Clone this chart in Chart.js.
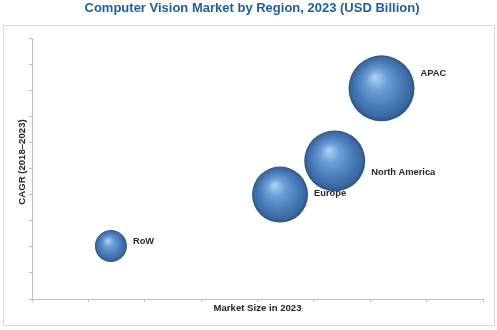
<!DOCTYPE html>
<html>
<head>
<meta charset="utf-8">
<script src="https://cdn.jsdelivr.net/npm/chart.js@4.4.1/dist/chart.umd.min.js"></script>
<style>
  html, body { margin: 0; padding: 0; background: #ffffff; }
  #wrap { width: 497px; height: 330px; }
</style>
</head>
<body>
<div id="wrap"><canvas id="chart" width="497" height="330"></canvas></div>
<script>
const regions = ['RoW', 'Europe', 'North America', 'APAC'];
const marketSize = [1.4, 4.4, 5.37, 6.2];
const cagr = [2.03, 4.0, 5.29, 8.07];
const bubbleSize = [16, 28, 30.5, 33];

// label placement next to each sphere (px)
const labelDy = [-5, -1, 11, -15];
const labelGap = 6;

const axisGray = '#bfbfbf';
const labelFont = '"Liberation Sans", Arial, sans-serif';

// White background, grey frame and the heading above it
const frame = {
  id: 'frame',
  beforeDraw: (chart) => {
    const { ctx } = chart;
    ctx.save();
    ctx.fillStyle = '#ffffff';
    ctx.fillRect(0, 0, chart.width, chart.height);
    ctx.strokeStyle = '#d9d9d9';
    ctx.lineWidth = 1;
    ctx.strokeRect(3.5, 25.5, 491, 300);
    ctx.font = 'bold 13px ' + labelFont;
    ctx.fillStyle = '#1f5f99';
    ctx.textAlign = 'center';
    ctx.textBaseline = 'middle';
    ctx.fillText('Computer Vision Market by Region, 2023 (USD Billion)', 252, 8.5);
    ctx.restore();
  },
};

// Vertical axis caption, sitting a little above the axis middle
const yCaption = {
  id: 'yCaption',
  afterDraw: (chart) => {
    const { ctx } = chart;
    ctx.save();
    ctx.translate(22.5, 162);
    ctx.rotate(-Math.PI / 2);
    ctx.font = 'bold 9.6px ' + labelFont;
    ctx.fillStyle = '#262626';
    ctx.textAlign = 'center';
    ctx.textBaseline = 'middle';
    ctx.fillText('CAGR (2018–2023)', 0, 0);
    ctx.restore();
  },
};

// Region names beside the spheres
const regionLabels = {
  id: 'regionLabels',
  afterDatasetsDraw: (chart) => {
    const { ctx } = chart;
    const meta = chart.getDatasetMeta(0);
    ctx.save();
    ctx.font = 'bold 9.3px ' + labelFont;
    ctx.fillStyle = '#262626';
    ctx.textAlign = 'left';
    ctx.textBaseline = 'middle';
    meta.data.forEach((pt, i) => {
      const r = bubbleSize[i];
      ctx.fillText(regions[i], pt.x + r + labelGap, pt.y + labelDy[i]);
    });
    ctx.restore();
  },
};

// Shaded sphere fill
const sphereFill = (c) => {
  const { chart, raw } = c;
  if (!raw || !chart.scales || !chart.scales.x || !chart.scales.y) return '#4a7ebb';
  const x = chart.scales.x.getPixelForValue(raw.x);
  const y = chart.scales.y.getPixelForValue(raw.y);
  const r = raw.r;
  if (![x, y, r].every(Number.isFinite)) return '#4a7ebb';
  const g = chart.ctx.createRadialGradient(x - r * 0.2, y - r * 0.35, r * 0.03, x, y, r);
  g.addColorStop(0, '#a9cff1');
  g.addColorStop(0.3, '#6b9dd6');
  g.addColorStop(0.65, '#4a7dbb');
  g.addColorStop(0.9, '#3b68a0');
  g.addColorStop(1, '#2a5282');
  return g;
};

const points = regions.map((name, i) => ({ x: marketSize[i], y: cagr[i], r: bubbleSize[i] }));

new Chart(document.getElementById('chart').getContext('2d'), {
  type: 'bubble',
  data: {
    datasets: [
      {
        label: 'Regions',
        data: points,
        backgroundColor: sphereFill,
        borderWidth: 0,
        hoverRadius: 0,
      },
    ],
  },
  options: {
    responsive: false,
    animation: false,
    events: [],
    layout: { autoPadding: false, padding: { left: 0, right: 14, top: 38, bottom: 0 } },
    plugins: {
      legend: { display: false },
      tooltip: { enabled: false },
      title: { display: false },
    },
    scales: {
      x: {
        type: 'linear',
        min: 0,
        max: 8,
        ticks: { stepSize: 1, display: false },
        grid: { drawOnChartArea: false, drawTicks: true, tickLength: 3, color: axisGray },
        border: { display: true, color: axisGray, width: 1 },
        title: {
          display: true,
          text: 'Market Size in 2023',
          color: '#262626',
          font: { family: labelFont, size: 9.6, weight: 'bold' },
          padding: { top: 0, bottom: 16 },
        },
        afterFit: (scale) => { scale.height = 31; },
      },
      y: {
        type: 'linear',
        min: 0,
        max: 10,
        ticks: { stepSize: 1, display: false },
        grid: { drawOnChartArea: false, drawTicks: true, tickLength: 3, color: axisGray },
        border: { display: true, color: axisGray, width: 1 },
        afterFit: (scale) => { scale.width = 32; },
      },
    },
  },
  plugins: [frame, regionLabels, yCaption],
});
</script>
</body>
</html>
